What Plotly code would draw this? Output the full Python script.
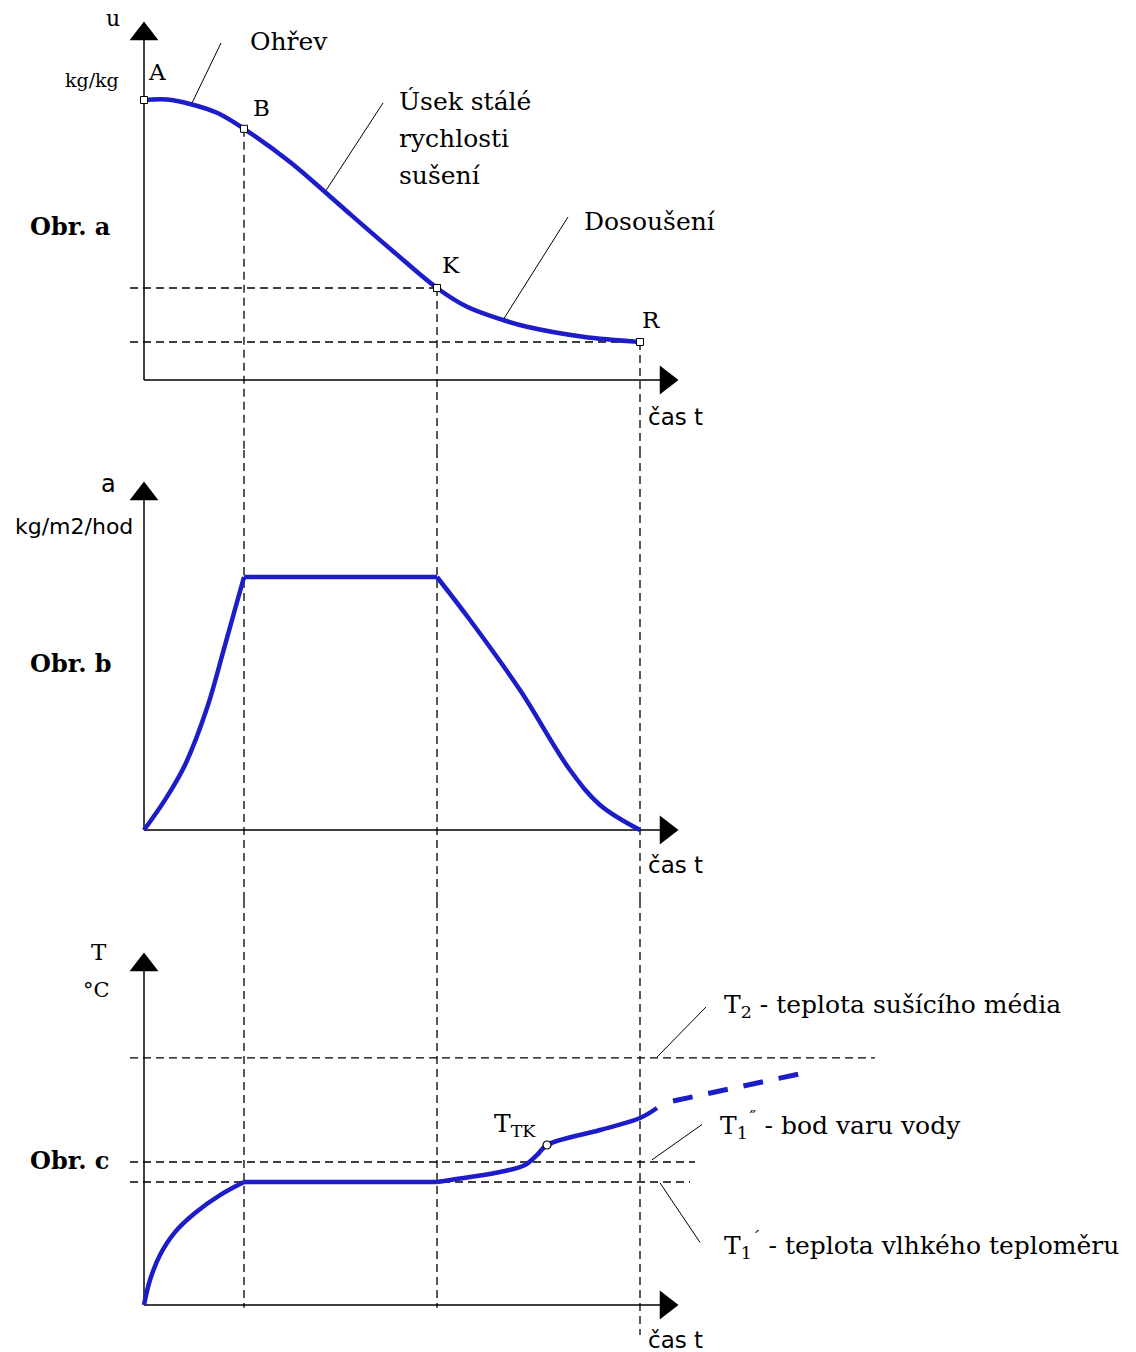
import plotly.graph_objects as go

# ---------------- data ----------------
# characteristic times (A = start, B = end of heating, K = critical point, R = end)
t_A, t_B, t_K, t_R = 0.0, 1.0, 2.93, 4.96

# Obr. a: moisture content u [kg/kg]
t_a = [0.0, 0.23, 0.46, 0.73, 1.0, 1.46, 1.81, 2.06, 2.49, 2.93, 3.23, 3.59, 3.83, 4.39, 4.96]
u_a = [0.700, 0.701, 0.690, 0.668, 0.628, 0.545, 0.470, 0.415, 0.322, 0.230,
       0.183, 0.150, 0.133, 0.108, 0.095]
point_labels = ["A", "B", "K", "R"]
point_idx = [0, 4, 9, 14]

# Obr. b: drying rate a [kg/m2/hod]
t_b = [0.0, 0.21, 0.41, 0.63, 0.81, 1.0, 2.93, 3.26, 3.76, 4.26, 4.56, 4.96]
a_b = [0.0, 0.119, 0.257, 0.482, 0.731, 1.0, 1.0, 0.83, 0.553, 0.237, 0.099, 0.0]

# Obr. c: material temperature T [°C]
t_c = [0.0, 0.06, 0.16, 0.31, 0.51, 0.76, 1.0, 2.93, 3.26, 3.56, 3.81,
       3.93, 4.03, 4.56, 4.96, 5.13]
T_c = [20.0, 34.0, 48.0, 60.8, 71.5, 81.5, 88.8, 88.8, 91.6, 94.4, 98.3,
       103.9, 109.5, 117.9, 124.6, 130.2]
tk_idx = 12
t_c_ext = [5.29, 6.60]        # continuation above the boiling point
T_c_ext = [134.1, 149.8]

T_start = 20.0
T_wet = 88.8      # T1'  wet-bulb temperature
T_boil = 100.0    # T1'' boiling point of water
T_medium = 158.2  # T2   drying medium temperature

# ---------------- styling ----------------
BLUE = "#1c1cc8"
SERIF = "DejaVu Serif"
SANS = "DejaVu Sans"
DASH = "8px,5px"

# axis ranges (per panel)
x_range = [-1.44, 9.92]
ya_range = [-0.175, 0.95]
yb_range = [-0.2767, 1.502]
yc_range = [-6.29, 246.57]

fig = go.Figure()


def line(x, y, yax, color="black", width=1.5, dash=None, shape="linear"):
    fig.add_trace(go.Scatter(x=x, y=y, xaxis="x", yaxis=yax, mode="lines",
                             line=dict(color=color, width=width, dash=dash, shape=shape),
                             hoverinfo="skip", showlegend=False))


def arrow_axes(yax, y0, y_top, x_end):
    line([0, 0], [y0, y_top], yax)
    line([0, x_end], [y0, y0], yax)
    fig.add_trace(go.Scatter(x=[0], y=[y_top], xaxis="x", yaxis=yax, mode="markers",
                             marker=dict(symbol="triangle-up", size=25, color="black"),
                             hoverinfo="skip", showlegend=False))
    fig.add_trace(go.Scatter(x=[x_end], y=[y0], xaxis="x", yaxis=yax, mode="markers",
                             marker=dict(symbol="triangle-right", size=25, color="black"),
                             hoverinfo="skip", showlegend=False))


# ---- dashed guide lines ----
x_left = -0.14
line([x_left, t_K], [u_a[9], u_a[9]], "y", width=1.3, dash=DASH)
line([x_left, t_R], [u_a[14], u_a[14]], "y", width=1.3, dash=DASH)
line([x_left, 7.31], [T_medium, T_medium], "y3", width=1.3, dash=DASH)
line([x_left, 5.51], [T_boil, T_boil], "y3", width=1.3, dash=DASH)
line([x_left, 5.46], [T_wet, T_wet], "y3", width=1.3, dash=DASH)

# vertical dashed lines through all three panels
for t, i, bottom in [(t_B, 4, T_start - 1.5), (t_K, 9, T_start - 1.5), (t_R, 14, 3.2)]:
    line([t, t], [u_a[i], ya_range[0]], "y", width=1.3, dash=DASH)
    line([t, t], [yb_range[1], yb_range[0]], "y2", width=1.3, dash=DASH)
    line([t, t], [yc_range[1], bottom], "y3", width=1.3, dash=DASH)

# ---- axes with arrowheads ----
arrow_axes("y", 0, 0.865, 5.22)
arrow_axes("y2", 0, 1.328, 5.22)
arrow_axes("y3", T_start, 210.2, 5.22)

# ---- leader lines ----
leaders = [
    ("y", [0.77, 0.48], [0.8425, 0.6925]),
    ("y", [2.39, 1.81], [0.6925, 0.470]),
    ("y", [4.24, 3.59], [0.4075, 0.150]),
    ("y3", [5.62, 5.13], [186.7, 158.7]),
    ("y3", [5.58, 5.08], [121.0, 101.2]),
    ("y3", [5.56, 5.16], [55.0, 88.3]),
]
for yax, xs, ys in leaders:
    line(xs, ys, yax, width=1)

# ---- curves ----
W = 4.5
line(t_a, u_a, "y", color=BLUE, width=W, shape="spline")
# rate: curved rise, constant-rate plateau, curved falling-rate period
line(t_b[:6], a_b[:6], "y2", color=BLUE, width=W, shape="spline")
line(t_b[5:7], a_b[5:7], "y2", color=BLUE, width=W)
line(t_b[6:], a_b[6:], "y2", color=BLUE, width=W, shape="spline")
# temperature: heating, wet-bulb plateau, rise above it
line(t_c[:7], T_c[:7], "y3", color=BLUE, width=W, shape="spline")
line(t_c[6:8], T_c[6:8], "y3", color=BLUE, width=W)
line(t_c[7:], T_c[7:], "y3", color=BLUE, width=W, shape="spline")
line(t_c_ext, T_c_ext, "y3", color=BLUE, width=5, dash="20px,16px")

# ---- point markers ----
fig.add_trace(go.Scatter(x=[t_a[i] for i in point_idx], y=[u_a[i] for i in point_idx],
                         xaxis="x", yaxis="y", mode="markers",
                         marker=dict(symbol="square", size=7, color="white",
                                     line=dict(color="black", width=1)),
                         hoverinfo="skip", showlegend=False))
fig.add_trace(go.Scatter(x=[t_c[tk_idx]], y=[T_c[tk_idx]], xaxis="x", yaxis="y3",
                         mode="markers",
                         marker=dict(symbol="circle", size=8, color="white",
                                     line=dict(color="black", width=1.2)),
                         hoverinfo="skip", showlegend=False))

# ---- texts ----
ann = []


def text(s, x, y, yax, size=25, family=SERIF, xanchor="left", bold=False):
    ann.append(dict(text=f"<b>{s}</b>" if bold else s, x=x, y=y, xref="x", yref=yax,
                    xanchor=xanchor, yanchor="middle", showarrow=False,
                    font=dict(family=family, size=size, color="black")))


# panel a
text("u", -0.31, 0.905, "y", size=22, xanchor="center")
text("kg/kg", -0.52, 0.75, "y", size=19, xanchor="center")
for lab, i, dx, dy in zip(point_labels, point_idx,
                          [0.13, 0.17, 0.14, 0.11], [0.07, 0.052, 0.0575, 0.055]):
    text(lab, t_a[i] + dx, u_a[i] + dy, "y", size=23, xanchor="center")
text("Ohřev", 1.04, 0.8475, "y")
text("Úsek stálé", 2.53, 0.6975, "y")
text("rychlosti", 2.53, 0.605, "y")
text("sušení", 2.53, 0.5125, "y")
text("Dosoušení", 4.38, 0.3975, "y")
text("čas t", 5.02, -0.0925, "y", family=SANS, size=23)
text("Obr. a", -1.16, 0.385, "y", size=24, bold=True)

# panel b
text("a", -0.36, 1.3676, "y2", family=SANS, size=24, xanchor="center")
text("kg/m2/hod", -0.70, 1.198, "y2", family=SANS, size=22, xanchor="center")
text("Obr. b", -1.16, 0.66, "y2", size=24, bold=True)
text("čas t", 5.02, -0.138, "y2", family=SANS, size=23)

# panel c
text("T", -0.45, 217.5, "y3", size=23, xanchor="center")
text("°C", -0.48, 196.2, "y3", size=21, xanchor="center")
text("Obr. c", -1.16, 101.1, "y3", size=24, bold=True)
text("čas t", 5.02, 0.42, "y3", family=SANS, size=23)
text("T<sub>TK</sub>", 3.48, 120.7, "y3")
text("T<sub>2</sub> - teplota sušícího média", 5.78, 187.3, "y3")
text("T<sub>1</sub><sup>˝</sup> - bod varu vody", 5.74, 120.7, "y3")
text("T<sub>1</sub><sup>´</sup> - teplota vlhkého teploměru", 5.78, 53.6, "y3")

fig.update_layout(
    width=1136, height=1352,
    margin=dict(l=0, r=0, t=0, b=0),
    paper_bgcolor="white", plot_bgcolor="white",
    showlegend=False,
    xaxis=dict(domain=[0, 1], range=x_range, visible=False, fixedrange=True),
    yaxis=dict(domain=[1 - 450 / 1352, 1], range=ya_range, visible=False, anchor="x"),
    yaxis2=dict(domain=[1 - 900 / 1352, 1 - 450 / 1352], range=yb_range, visible=False,
                anchor="x"),
    yaxis3=dict(domain=[0, 1 - 900 / 1352], range=yc_range, visible=False, anchor="x"),
    annotations=ann,
)

fig.write_html("out.html", config=dict(displayModeBar=False))
